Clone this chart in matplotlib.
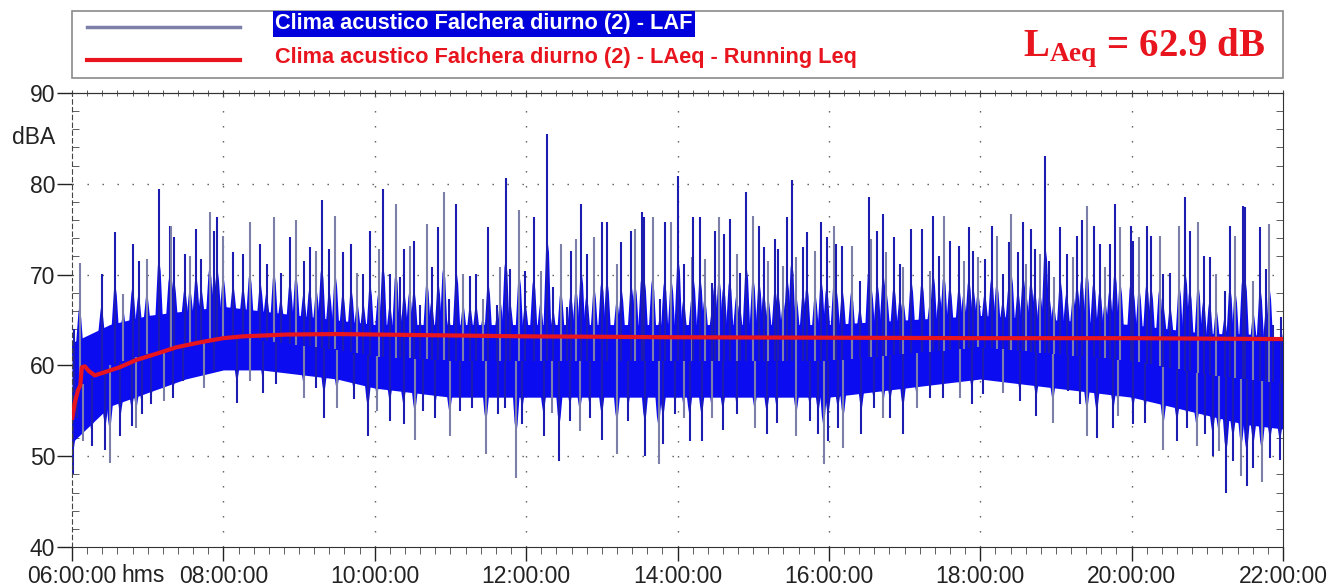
"""
Clima acustico Falchera diurno (2): LAF time history with running Leq.
"""
import numpy as np
import matplotlib
matplotlib.use("Agg")
import matplotlib.pyplot as plt
from matplotlib.lines import Line2D
from matplotlib.patches import Rectangle, Polygon
from matplotlib.ticker import MultipleLocator, FuncFormatter, NullFormatter
import matplotlib.transforms as mtransforms

# ---- data (hours of day, dBA) --------------------------------------------- #
# dense LAF band
core_t = [6.0, 6.25, 6.5, 7.0, 7.5, 8.0, 8.5, 9.0, 9.5, 10.0, 11.0, 12.0, 13.0,
          14.0, 15.0, 16.0, 17.0, 18.0, 19.0, 20.0, 20.5, 21.0, 21.5, 22.0]
core_hi = [62.5, 63.5, 64.5, 65.5, 66.0, 66.5, 66.0, 65.5, 65.0, 64.5, 64.5, 64.5, 64.5,
           64.5, 64.5, 64.5, 65.0, 65.5, 65.0, 64.5, 64.0, 63.5, 63.5, 63.0]
core_lo = [51.5, 53.5, 55.5, 57.0, 58.5, 59.5, 59.5, 59.0, 58.5, 57.5, 56.5, 56.5, 56.5,
           56.5, 56.5, 56.5, 57.5, 58.5, 57.5, 56.5, 55.5, 54.5, 53.5, 53.0]

# LAF peaks above the band
up_t = [6.02, 6.10, 6.39, 6.57, 6.68, 6.80, 6.88, 6.99, 7.15, 7.29, 7.31, 7.35, 7.49,
        7.56, 7.64, 7.71, 7.82, 7.88, 7.92, 8.00, 8.13, 8.26, 8.35, 8.49, 8.57, 8.67,
        8.76, 8.88, 8.96, 9.06, 9.14, 9.23, 9.30, 9.40, 9.48, 9.58, 9.69, 9.77, 9.85,
        9.94, 10.05, 10.11, 10.20, 10.28, 10.33, 10.39, 10.46, 10.52, 10.60, 10.69,
        10.75, 10.84, 10.91, 10.98, 11.08, 11.17, 11.26, 11.34, 11.43, 11.50, 11.61,
        11.66, 11.73, 11.79, 11.91, 11.99, 12.10, 12.19, 12.28, 12.36, 12.46, 12.54,
        12.59, 12.66, 12.73, 12.80, 12.90, 13.00, 13.07, 13.20, 13.26, 13.39, 13.44,
        13.53, 13.56, 13.67, 13.77, 13.83, 13.92, 14.01, 14.08, 14.19, 14.21, 14.30,
        14.36, 14.46, 14.49, 14.55, 14.61, 14.69, 14.78, 14.82, 14.91, 15.00, 15.08,
        15.14, 15.20, 15.29, 15.33, 15.40, 15.45, 15.51, 15.57, 15.66, 15.71, 15.82,
        15.90, 15.97, 16.07, 16.10, 16.18, 16.30, 16.41, 16.53, 16.56, 16.64, 16.72,
        16.76, 16.86, 16.94, 16.98, 17.09, 17.23, 17.34, 17.38, 17.46, 17.52, 17.60,
        17.72, 17.78, 17.85, 17.91, 17.97, 18.06, 18.15, 18.22, 18.30, 18.38, 18.41,
        18.50, 18.57, 18.61, 18.67, 18.72, 18.79, 18.86, 18.91, 18.97, 19.06, 19.14,
        19.23, 19.28, 19.34, 19.41, 19.50, 19.58, 19.65, 19.71, 19.78, 19.85, 19.99,
        20.02, 20.10, 20.20, 20.26, 20.37, 20.42, 20.51, 20.63, 20.71, 20.77, 20.88,
        20.95, 21.03, 21.12, 21.23, 21.30, 21.37, 21.47, 21.50, 21.61, 21.70, 21.78,
        21.82, 21.87, 21.98]
up_v = [64.0, 71.3, 70.1, 74.7, 67.9, 73.4, 71.5, 71.7, 79.4, 75.4, 75.4, 74.1, 72.3,
        72.1, 75.0, 71.7, 76.9, 74.8, 76.3, 74.3, 72.5, 72.3, 75.8, 73.4, 71.2, 76.3,
        70.2, 74.1, 76.0, 71.5, 73.0, 72.6, 78.2, 72.8, 76.5, 72.5, 73.4, 70.2, 70.1,
        74.8, 72.8, 79.4, 70.1, 77.8, 69.7, 72.8, 73.2, 73.7, 66.7, 75.6,
        70.8, 75.2, 79.1, 67.3, 77.8, 70.1, 69.9, 70.1, 67.3, 75.2, 66.7,
        70.8, 80.6, 70.6, 77.1, 70.4, 76.3, 70.4, 85.5, 68.6, 73.4, 66.4,
        72.6, 73.9, 77.8, 72.3, 74.1, 75.8, 75.8, 71.2, 73.6, 74.8, 75.0,
        76.9, 76.3, 76.3, 67.3, 75.8, 75.8, 80.9, 71.2, 71.9, 76.3, 76.3,
        71.7, 69.1, 74.8, 76.3, 74.5, 76.1, 72.3, 70.2, 79.1, 76.5, 75.4,
        73.0, 71.5, 73.9, 72.8, 71.0, 76.3, 80.4, 71.9, 73.0, 74.7, 72.6,
        75.8, 74.1, 75.4, 73.4, 73.2, 73.2, 69.3, 78.5, 73.9, 74.8, 76.7,
        72.5, 74.1, 71.2, 70.8, 75.0, 75.0, 70.4, 76.5, 72.1, 76.5, 73.7,
        73.2, 71.5, 75.2, 72.6, 71.9, 71.7, 75.4, 74.3, 70.1, 73.6, 76.7,
        72.5, 75.8, 71.2, 75.0, 72.8, 72.3, 83.1, 71.5, 69.7, 75.2, 72.3,
        71.9, 74.3, 76.0, 77.6, 75.4, 73.4, 70.8, 73.4, 77.8, 75.2, 75.4,
        73.7, 74.1, 75.4, 74.3, 74.3, 70.1, 70.2, 75.4, 78.5, 74.8, 75.8,
        72.1, 71.9, 70.1, 68.2, 75.4, 74.3, 77.6, 77.4, 69.3, 75.2, 70.6,
        75.6, 64.4, 65.3]

# LAF dips below the band
dn_t = [6.01, 6.06, 6.15, 6.26, 6.44, 6.50, 6.64, 6.79, 6.85, 6.92, 7.05, 7.21, 7.34,
        7.47, 7.74, 7.87, 8.18, 8.35, 8.52, 8.70, 9.06, 9.23, 9.33, 9.50, 9.72, 9.91,
        10.03, 10.20, 10.38, 10.53, 10.64, 10.80, 10.99, 11.13, 11.28, 11.47, 11.63,
        11.72, 11.87, 11.95, 12.23, 12.34, 12.44, 12.58, 12.71, 12.84, 13.00, 13.20,
        13.35, 13.57, 13.75, 13.81, 13.97, 14.08, 14.16, 14.32, 14.45, 14.60, 14.78,
        15.02, 15.18, 15.31, 15.57, 15.75, 15.86, 15.93, 15.99, 16.12, 16.19, 16.43,
        16.59, 16.72, 16.81, 16.98, 17.16, 17.34, 17.51, 17.73, 17.89, 18.04, 18.30,
        18.52, 18.74, 18.96, 19.16, 19.32, 19.41, 19.54, 19.76, 19.82, 20.02, 20.18,
        20.42, 20.60, 20.73, 20.86, 20.97, 21.07, 21.15, 21.25, 21.34, 21.45, 21.52,
        21.61, 21.72, 21.83, 21.96]
dn_v = [48.0, 54.2, 51.7, 51.1, 50.7, 49.3, 52.2, 53.3, 53.1, 54.6, 55.7, 56.1, 56.4,
        58.3, 57.5, 59.4, 55.9, 58.3, 57.0, 57.9, 56.4, 57.5, 54.2, 55.3, 56.3, 52.2,
        55.0, 53.9, 53.5, 51.8, 55.0, 54.2, 52.2, 55.0, 55.3, 50.2, 54.6,
        55.3, 47.6, 53.5, 52.2, 54.8, 49.5, 53.9, 52.8, 54.2, 51.8, 50.2,
        53.9, 50.0, 49.1, 51.3, 54.6, 54.2, 51.7, 51.7, 54.2, 52.9, 54.6,
        53.1, 52.4, 53.7, 52.2, 53.9, 52.4, 49.1, 51.7, 53.1, 50.9, 52.4,
        55.3, 54.2, 54.2, 52.4, 55.3, 56.4, 56.4, 56.4, 55.7, 56.8, 57.0,
        56.1, 54.4, 53.7, 57.2, 55.7, 52.2, 52.0, 53.1, 54.4, 53.5, 53.7,
        50.7, 51.7, 53.1, 51.1, 52.4, 50.0, 50.6, 46.0, 49.5, 47.8, 46.7,
        48.7, 47.2, 49.8, 49.6]

# running Leq
leq_t = [6.00, 6.04, 6.08, 6.11, 6.13, 6.17, 6.22, 6.30, 6.45, 6.63, 6.85, 7.16,
         7.38, 7.73, 8.00, 8.26, 8.84, 9.50, 10.0, 11.0, 12.0, 13.0, 14.0, 16.0,
         18.0, 20.0, 21.0, 22.0]
leq_v = [54.0, 56.0, 57.3, 57.8, 59.8, 59.9, 59.4, 58.9, 59.3, 59.8, 60.6, 61.4,
         62.0, 62.6, 63.0, 63.2, 63.4, 63.45, 63.4, 63.3, 63.2, 63.15, 63.1, 63.05,
         63.0, 63.0, 62.95, 62.9]

LAEQ = 62.9
x_ticks = [6, 8, 10, 12, 14, 16, 18, 20, 22]

BLUE = "#0c0cf0"
NAVY = "#1c1cb0"
GRAY = "#7c80a8"
RED = "#e8141e"
INK = "#222222"

plt.rcParams["font.family"] = ["Liberation Sans", "DejaVu Sans"]
plt.rcParams["mathtext.fontset"] = "custom"
plt.rcParams["mathtext.bf"] = "Liberation Serif:bold"
plt.rcParams["mathtext.rm"] = "Liberation Serif:bold"

W, H = 1343, 587
fig = plt.figure(figsize=(W / 100, H / 100), dpi=100)
ax = fig.add_axes([72 / W, 1 - 547 / H, 1211 / W, 454 / H])

# ---- LAF trace ------------------------------------------------------------ #
core_t = np.asarray(core_t)
hi = np.asarray(core_hi)
lo = np.asarray(core_lo)
mid = (hi + lo) / 2
ax.fill_between(core_t, lo, hi, color=BLUE, lw=0, zorder=2)

# each event: a burst of dense trace plus the thin peak line
BW = 0.055   # burst half width, hours
ut = np.asarray(up_t)
uv = np.asarray(up_v)
ub = np.interp(ut, core_t, hi)
for t, v, b in zip(ut, uv, ub):
    top = b + 0.45 * max(v - b, 0)
    ax.add_patch(Polygon([(t - BW, b - 1.5), (t - BW * 0.3, top - 1), (t, top),
                          (t + BW * 0.4, top - 1.5), (t + BW, b - 1.5)],
                         closed=True, fc=BLUE, ec="none", zorder=2))
uc = [GRAY if i % 3 == 1 else NAVY for i in range(len(ut))]
ax.vlines(ut, np.interp(ut, core_t, mid), uv, colors=uc, lw=1.5, zorder=2)

dt = np.asarray(dn_t)
dv = np.asarray(dn_v)
db = np.interp(dt, core_t, lo)
for t, v, b in zip(dt, dv, db):
    bot = b - 0.45 * max(b - v, 0)
    ax.add_patch(Polygon([(t - BW, b + 1.5), (t - BW * 0.4, bot + 1.2), (t, bot),
                          (t + BW * 0.3, bot + 1), (t + BW, b + 1.5)],
                         closed=True, fc=BLUE, ec="none", zorder=2))
dc = [GRAY if i % 3 == 2 else NAVY for i in range(len(dt))]
ax.vlines(dt, dv, np.interp(dt, core_t, mid), colors=dc, lw=1.5, zorder=2)

ax.plot(leq_t, leq_v, color=RED, lw=3, zorder=3, solid_capstyle="butt")

# ---- axes ----------------------------------------------------------------- #
ax.set_xlim(6, 22)
ax.set_ylim(40, 90)
ax.set_xticks(x_ticks)
ax.xaxis.set_minor_locator(MultipleLocator(0.2))
ax.yaxis.set_major_locator(MultipleLocator(10))
ax.yaxis.set_minor_locator(MultipleLocator(2))
ax.xaxis.set_major_formatter(FuncFormatter(lambda v, p: f"{int(round(v)):02d}:00:00"))

ax.tick_params(axis="both", which="major", labelsize=16.5, colors=INK, width=1)
ax.tick_params(axis="x", which="major", direction="out", length=10, pad=3)
ax.tick_params(axis="x", which="minor", direction="out", length=5, color="#444444")
ax.tick_params(axis="y", which="major", direction="out", length=11, pad=1)
ax.tick_params(axis="y", which="minor", direction="in", length=5, color="#444444",
               right=True)

top = ax.secondary_xaxis("top")
top.set_xticks(x_ticks)
top.xaxis.set_minor_locator(MultipleLocator(0.2))
top.xaxis.set_major_formatter(NullFormatter())
top.tick_params(which="both", direction="inout", length=5, color="#444444")
top.spines["top"].set_color("#333333")

for s in ("top", "right", "bottom"):
    ax.spines[s].set_color("#333333")
ax.spines["left"].set_color("#444444")
ax.spines["left"].set_linestyle((0, (4, 3)))

dots = dict(color="#555555", lw=1.0, ls=(0, (1.0, 9.8)), zorder=1)
for y in (50, 60, 70, 80):
    ax.axhline(y, **dots)
for x in x_ticks[1:-1]:
    ax.axvline(x, **dots)

ax.text(55 / W, 1 - 138 / H, "dBA", transform=fig.transFigure,
        ha="right", va="center", fontsize=16.5, color=INK)
ax.text(143 / W, 1 - 576 / H, "hms", transform=fig.transFigure,
        ha="center", va="center", fontsize=16.5, color=INK)

# ---- legend box ----------------------------------------------------------- #
fig.patches.append(Rectangle((72 / W, 1 - 78 / H), 1211 / W, 67 / H,
                             transform=fig.transFigure, fill=False,
                             edgecolor="#8a8a8a", lw=1.2))
fig.lines.append(Line2D([87 / W, 240 / W], [1 - 27 / H] * 2, color=GRAY, lw=2.5,
                        transform=fig.transFigure))
fig.lines.append(Line2D([87 / W, 240 / W], [1 - 60 / H] * 2, color=RED, lw=3,
                        transform=fig.transFigure))
fig.text(275 / W, 1 - 24 / H, "Clima acustico Falchera diurno (2) - LAF",
         fontsize=15.7, fontweight="bold", color="white", va="center",
         bbox=dict(boxstyle="square,pad=0.1", fc="#0000dc", ec="none"))
fig.text(275 / W, 1 - 58 / H, "Clima acustico Falchera diurno (2) - LAeq - Running Leq",
         fontsize=15.7, fontweight="bold", color=RED, va="center")
fig.text(1265 / W, 1 - 48 / H, r"$\mathbf{L_{Aeq}}$" + f" = {LAEQ} dB",
         fontsize=28, color=RED, ha="right", va="center",
         family="Liberation Serif", fontweight="bold")

fig.savefig("out.png", dpi=100)
